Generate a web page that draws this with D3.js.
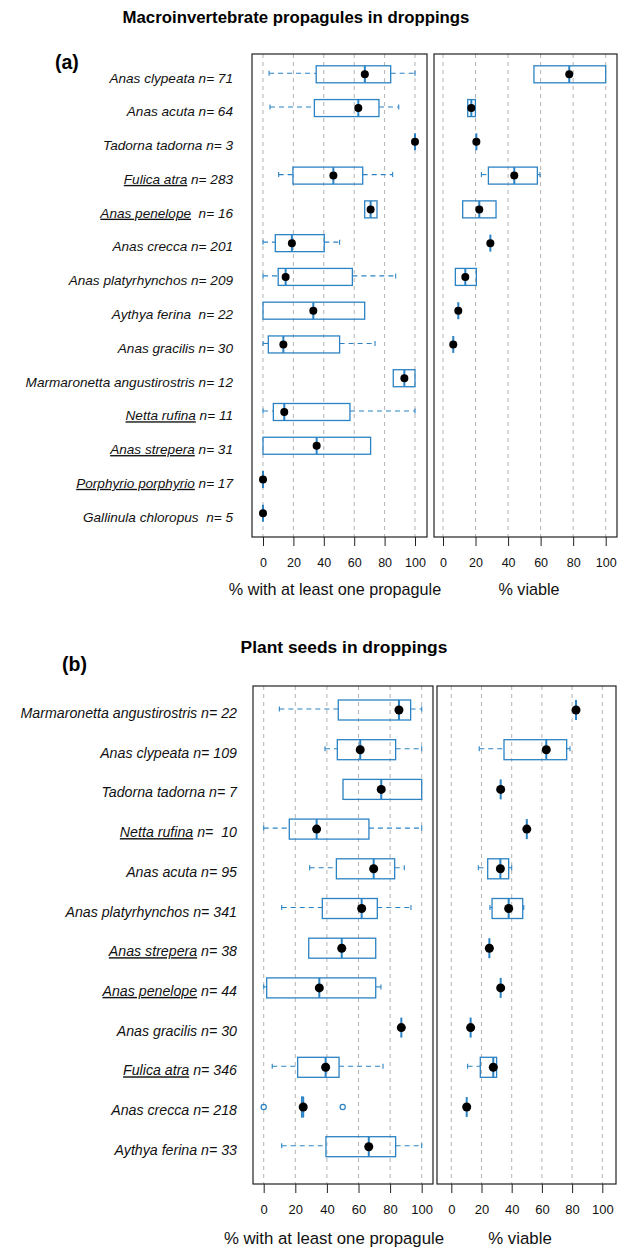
<!DOCTYPE html>
<html>
<head>
<meta charset="utf-8">
<script src="https://cdn.jsdelivr.net/npm/d3@7"></script>
<style>
  body { margin: 0; background: #fff; }
  svg { display: block; font-family: "Liberation Sans", Arial, sans-serif; }
</style>
</head>
<body>
<svg id="chart" width="624" height="1249"></svg>
<script>
// ---- data ----
// each stat row: [lowWhisker, q1, median, q3, highWhisker, mean]; null = no data

const macroNames = ["Anas clypeata", "Anas acuta", "Tadorna tadorna", "Fulica atra", "Anas penelope",
  "Anas crecca", "Anas platyrhynchos", "Aythya ferina", "Anas gracilis", "Marmaronetta angustirostris",
  "Netta rufina", "Anas strepera", "Porphyrio porphyrio", "Gallinula chloropus"];
const macroN = [" n= 71", " n= 64", " n= 3", " n= 283", "  n= 16", " n= 201", " n= 209", "  n= 22",
  " n= 30", " n= 12", " n= 11", " n= 31", " n= 17", "  n= 5"];
const macroUnderlined = [false, false, false, true, true, false, false, false, false, false, true, true, true, false];

const macroPresence = [
  [4, 35, 67, 84, 100, 67],
  [4.6, 33.8, 62.7, 76.3, 89.3, 62.7],
  [100, 100, 100, 100, 100, 100],
  [10.3, 19.7, 46.3, 65.6, 85.3, 46.3],
  [66.9, 66.9, 70.8, 75, 75, 70.8],
  [0, 8.1, 19, 40.3, 50.4, 19],
  [0, 10, 14.9, 58.8, 87.3, 14.9],
  [0, 0, 33.1, 66.9, 66.9, 33.1],
  [0, 3.5, 13.4, 50.4, 73.7, 13.4],
  [85.7, 85.7, 93, 100, 100, 93],
  [0, 6.8, 14, 57.2, 100, 14],
  [0, 0, 35.3, 70.8, 70.8, 35.3],
  [0, 0, 0, 0, 0, 0],
  [0, 0, 0, 0, 0, 0]
];
const macroViable = [
  [55.9, 55.9, 77.6, 100, 100, 77.6],
  [15.2, 15.2, 17.4, 19.9, 19.9, 17.4],
  [20.5, 20.5, 20.5, 20.5, 20.5, 20.5],
  [23.6, 27.9, 43.8, 58, 59.6, 43.8],
  [12.1, 12.1, 22.3, 32.6, 32.6, 22.3],
  [29.1, 29.1, 29.1, 29.1, 29.1, 29.1],
  [7.6, 7.6, 13.7, 20.5, 20.5, 13.7],
  [9.4, 9.4, 9.4, 9.4, 9.4, 9.4],
  [6.3, 6.3, 6.3, 6.3, 6.3, 6.3],
  null, null, null, null, null
];

const seedNames = ["Marmaronetta angustirostris", "Anas clypeata", "Tadorna tadorna", "Netta rufina",
  "Anas acuta", "Anas platyrhynchos", "Anas strepera", "Anas penelope", "Anas gracilis",
  "Fulica atra", "Anas crecca", "Aythya ferina"];
const seedN = [" n= 22", " n= 109", " n= 7", " n=  10", " n= 95", " n= 341", " n= 38", " n= 44",
  " n= 30", " n= 346", " n= 218", " n= 33"];
const seedUnderlined = [false, false, false, true, false, false, true, true, false, true, false, false];

const seedPresence = [
  [9.9, 47.2, 85.6, 93, 100, 85.6],
  [38.8, 46.6, 61.1, 83.5, 100, 61.1],
  [50.2, 50.2, 74.4, 100, 100, 74.4],
  [0, 16.2, 33.5, 66.6, 100, 33.5],
  [29.1, 46, 69.6, 82.9, 89, 69.6],
  [11.4, 37.1, 62, 71.9, 93.2, 62],
  [28.5, 28.5, 49.4, 70.9, 70.9, 49.4],
  [0, 1.9, 35.2, 70.9, 74.2, 35.2],
  [87.1, 87.1, 87.1, 87.1, 87.1, 87.1],
  [5.4, 21.5, 39.2, 47.7, 75.5, 39.2],
  [24, 24, 25, 25, 25, 25],
  [11.4, 39.4, 66.5, 83.5, 100, 66.5]
];
const seedViable = [
  [82.6, 82.6, 82.6, 82.6, 82.6, 82.6],
  [18.5, 34.9, 62.9, 76.4, 78.6, 62.9],
  [32.7, 32.7, 32.7, 32.7, 32.7, 32.7],
  [50, 50, 50, 50, 50, 50],
  [17.9, 24.1, 32.5, 38, 40, 32.5],
  [25.6, 27, 38, 47.3, 48, 38],
  [25.2, 25.2, 25.2, 25.2, 25.2, 25.2],
  [32.7, 32.7, 32.7, 32.7, 32.7, 32.7],
  [12.8, 12.8, 12.8, 12.8, 12.8, 12.8],
  [10.8, 19.2, 27.8, 30, 30, 27.8],
  [10.2, 10.2, 10.2, 10.2, 10.2, 10.2],
  null
];
const seedOutliers = [["Anas crecca", 0], ["Anas crecca", 50]];

const tickValues = [0, 20, 40, 60, 80, 100];

// ---- layout ----
const BLUE = "#2b83c4";
const svg = d3.select("#chart");

const panels = [
  {
    title: "Macroinvertebrate propagules in droppings", titleX: 296, titleY: 23, titleSize: 16.8,
    tag: "(a)", tagX: 55, tagY: 69,
    names: macroNames, ns: macroN, ul: macroUnderlined,
    left: macroPresence, right: macroViable, outliers: [],
    top: 54, bottom: 537, rowFirst: 74.3, rowLast: 513.3, boxH: 17, capH: 5, dotR: 4,
    labelX: 233, labelSize: 13.6, labelDy: 8.3, tickSize: 12.5, axisTitleSize: 16.2, axisTitleDy: 58,
    leftPlot: { x0: 252, x1: 427, zero: 263, hundred: 415, titleX: 335 },
    rightPlot: { x0: 434, x1: 617, zero: 443, hundred: 605.7, titleX: 529 }
  },
  {
    title: "Plant seeds in droppings", titleX: 344, titleY: 653, titleSize: 17.4,
    tag: "(b)", tagX: 62, tagY: 671,
    names: seedNames, ns: seedN, ul: seedUnderlined,
    left: seedPresence, right: seedViable, outliers: seedOutliers,
    top: 686, bottom: 1184, rowFirst: 710, rowLast: 1146.7, boxH: 20, capH: 5, dotR: 4.5,
    labelX: 237, labelSize: 14.2, labelDy: 8, tickSize: 13, axisTitleSize: 16.8, axisTitleDy: 60,
    leftPlot: { x0: 253, x1: 433, zero: 263.7, hundred: 421.7, titleX: 334 },
    rightPlot: { x0: 437, x1: 616, zero: 451.3, hundred: 602.3, titleX: 520 }
  }
];

function drawPlot(p, plot, stats, outliers, axisTitle, y) {
  const x = d3.scaleLinear().domain([0, 100]).range([plot.zero, plot.hundred]);
  const g = svg.append("g");

  // dashed grid
  g.selectAll("line.grid").data(tickValues).join("line")
    .attr("x1", d => x(d)).attr("x2", d => x(d))
    .attr("y1", p.top).attr("y2", p.bottom)
    .attr("stroke", "#b3b3b3").attr("stroke-width", 1)
    .attr("stroke-dasharray", "4,4");

  const rows = p.names.map((name, i) => ({ name, s: stats[i] })).filter(d => d.s);
  const rg = g.selectAll("g.row").data(rows).join("g")
    .attr("transform", d => `translate(0,${y(d.name)})`);

  // whiskers (dashed) + staples, box, median, mean dot
  rg.each(function (d) {
    const [lo, q1, med, q3, hi] = d.s;
    const el = d3.select(this);
    if (q1 > lo) {
      el.append("line").attr("x1", x(lo)).attr("x2", x(q1)).attr("y1", -1).attr("y2", -1)
        .attr("stroke", BLUE).attr("stroke-dasharray", "5,4").attr("stroke-width", 1.1);
      el.append("line").attr("x1", x(lo)).attr("x2", x(lo))
        .attr("y1", -1 - p.capH / 2).attr("y2", -1 + p.capH / 2)
        .attr("stroke", BLUE).attr("stroke-width", 1.1);
    }
    if (hi > q3) {
      el.append("line").attr("x1", x(q3)).attr("x2", x(hi)).attr("y1", -1).attr("y2", -1)
        .attr("stroke", BLUE).attr("stroke-dasharray", "5,4").attr("stroke-width", 1.1);
      el.append("line").attr("x1", x(hi)).attr("x2", x(hi))
        .attr("y1", -1 - p.capH / 2).attr("y2", -1 + p.capH / 2)
        .attr("stroke", BLUE).attr("stroke-width", 1.1);
    }
    el.append("rect")
      .attr("x", x(q1)).attr("y", -p.boxH / 2)
      .attr("width", x(q3) - x(q1)).attr("height", p.boxH)
      .attr("fill", "none").attr("stroke", BLUE).attr("stroke-width", 1.3);
    el.append("line").attr("x1", x(med)).attr("x2", x(med))
      .attr("y1", -p.boxH / 2).attr("y2", p.boxH / 2)
      .attr("stroke", BLUE).attr("stroke-width", 2);
    el.append("circle").attr("cx", x(d.s[5])).attr("cy", 0).attr("r", p.dotR).attr("fill", "#000");
  });

  g.selectAll("circle.out").data(outliers).join("circle")
    .attr("cx", d => x(d[1])).attr("cy", d => y(d[0])).attr("r", 2.6)
    .attr("fill", "none").attr("stroke", BLUE).attr("stroke-width", 1.2);

  // frame
  g.append("rect")
    .attr("x", plot.x0).attr("y", p.top)
    .attr("width", plot.x1 - plot.x0).attr("height", p.bottom - p.top)
    .attr("fill", "none").attr("stroke", "#222").attr("stroke-width", 1.2);

  // axis
  const ax = g.append("g").attr("transform", `translate(0,${p.bottom})`)
    .call(d3.axisBottom(x).tickValues(tickValues).tickSize(9).tickPadding(12));
  ax.select(".domain").remove();
  ax.selectAll(".tick line").attr("stroke", "#222");
  ax.selectAll(".tick text").attr("font-size", p.tickSize).attr("fill", "#111")
    .attr("font-family", "Liberation Sans, Arial, sans-serif");

  g.append("text").attr("x", plot.titleX).attr("y", p.bottom + p.axisTitleDy)
    .attr("text-anchor", "middle").attr("font-size", p.axisTitleSize).attr("fill", "#111")
    .text(axisTitle);
}

panels.forEach(p => {
  const y = d3.scalePoint().domain(p.names).range([p.rowFirst, p.rowLast]);

  svg.append("text").attr("x", p.titleX).attr("y", p.titleY)
    .attr("text-anchor", "middle").attr("font-size", p.titleSize).attr("font-weight", "bold")
    .attr("fill", "#000").text(p.title);
  svg.append("text").attr("x", p.tagX).attr("y", p.tagY)
    .attr("font-size", 19.5).attr("font-weight", "bold").attr("fill", "#000").text(p.tag);

  // species labels
  const lab = svg.append("g").attr("font-size", p.labelSize).attr("font-style", "italic").attr("fill", "#111");
  p.names.forEach((name, i) => {
    const t = lab.append("text").attr("x", p.labelX).attr("y", y(name) + p.labelDy)
      .attr("text-anchor", "end").attr("xml:space", "preserve").style("white-space", "pre");
    t.append("tspan").attr("text-decoration", p.ul[i] ? "underline" : null)
      .style("text-decoration", p.ul[i] ? "underline" : null).text(name);
    t.append("tspan").text(p.ns[i]);
  });

  drawPlot(p, p.leftPlot, p.left, p.outliers, "% with at least one propagule", y);
  drawPlot(p, p.rightPlot, p.right, [], "% viable", y);
});
</script>
</body>
</html>
